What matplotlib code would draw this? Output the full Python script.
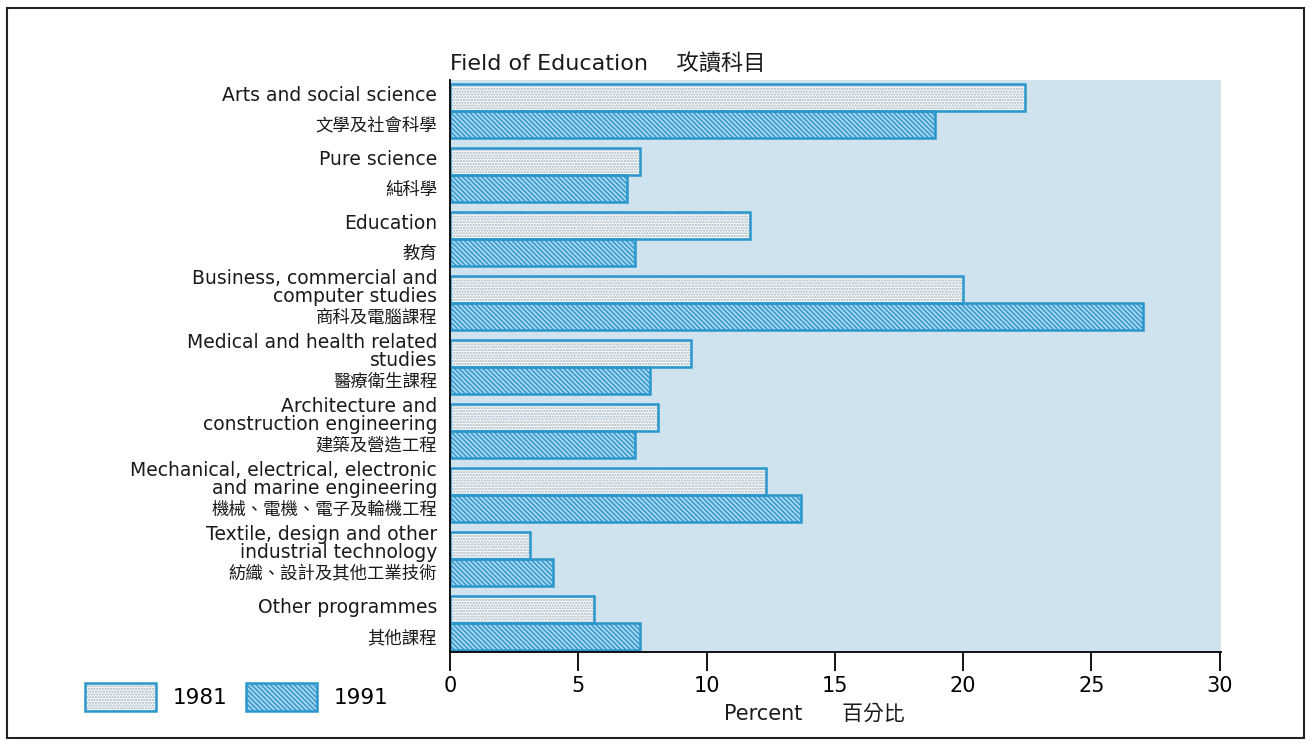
import numpy as np
import matplotlib
matplotlib.use('Agg')
import matplotlib.pyplot as plt
from matplotlib.patches import Patch, Rectangle

plt.rcParams['font.family'] = ['DejaVu Sans', 'Noto Sans CJK TC']
plt.rcParams['hatch.linewidth'] = 1.1

# field labels (English, Chinese)
fields_en = ['Arts and social science', 'Pure science', 'Education',
             'Business, commercial and\ncomputer studies',
             'Medical and health related\nstudies',
             'Architecture and\nconstruction engineering',
             'Mechanical, electrical, electronic\nand marine engineering',
             'Textile, design and other\nindustrial technology',
             'Other programmes']
fields_zh = ['文學及社會科學', '純科學', '教育', '商科及電腦課程', '醫療衛生課程',
             '建築及營造工程', '機械、電機、電子及輪機工程', '紡織、設計及其他工業技術', '其他課程']

pct_1981 = [22.4, 7.4, 11.7, 20.0, 9.4, 8.1, 12.3, 3.1, 5.6]
pct_1991 = [18.9, 6.9, 7.2, 27.0, 7.8, 7.2, 13.7, 4.0, 7.4]
years = ['1981', '1991']

edge = '#2a97cc'
bg = '#cee3ee'
fill81, hatch81, h81 = '#fafbfa', '#a3b8c4', '.' * 6
fill91, hatch91, h91 = '#abd7ee', '#3399cc', '\\' * 7

fig = plt.figure(figsize=(13.13, 7.47), dpi=100)
ax = fig.add_axes([0.3427, 0.1272, 0.5872, 0.7657])
ax.set_facecolor(bg)

y = np.arange(len(fields_en))
h = 0.42
y81 = y - h / 2
y91 = y + h / 2

# fills with hatch, then blue outlines
ax.barh(y81, pct_1981, height=h, color=fill81, edgecolor=hatch81, hatch=h81, lw=0)
ax.barh(y91, pct_1991, height=h, color=fill91, edgecolor=hatch91, hatch=h91, lw=0)
ax.barh(y81, pct_1981, height=h, fill=False, edgecolor=edge, lw=1.8)
ax.barh(y91, pct_1991, height=h, fill=False, edgecolor=edge, lw=1.8)

ax.set_xlim(0, 30.05)
ax.set_ylim(8.45, -0.48)

for s in ['top', 'right']:
    ax.spines[s].set_visible(False)
ax.spines['left'].set_linewidth(1.3)
ax.spines['bottom'].set_linewidth(1.3)

ax.set_xticks(np.arange(0, 31, 5))
ax.tick_params(axis='x', direction='out', length=14, width=1.3, labelsize=15, pad=3)
ax.set_yticks([])

# category labels: English next to 1981 bar, Chinese next to 1991 bar
for i in range(len(fields_en)):
    ax.text(-0.5, y81[i] - 0.03, fields_en[i], ha='right', va='center', fontsize=13.5,
            linespacing=0.9, color='#1a1a1a')
    ax.text(-0.5, y91[i] + 0.02, fields_zh[i], ha='right', va='center', fontsize=12.5,
            family='Noto Sans CJK TC', color='#1a1a1a')

fig.text(0.3427, 0.906, 'Field of Education    攻讀科目', fontsize=16, color='#1a1a1a')
fig.text(0.62, 0.037, 'Percent      百分比', fontsize=15, ha='center', color='#1a1a1a')

handles = [(Patch(facecolor=fill81, edgecolor=hatch81, hatch=h81, lw=0),
            Patch(fill=False, edgecolor=edge, lw=1.8)),
           (Patch(facecolor=fill91, edgecolor=hatch91, hatch=h91, lw=0),
            Patch(fill=False, edgecolor=edge, lw=1.8))]
fig.legend(handles, years, loc='lower left', bbox_to_anchor=(0.05, 0.022), ncol=2,
           frameon=False, fontsize=15.5, handlelength=3.3, handleheight=1.65,
           handletextpad=0.75, columnspacing=0.9)

# page frame
fig.add_artist(Rectangle((0.0055, 0.012), 0.988, 0.977, transform=fig.transFigure,
                         fill=False, edgecolor='#222222', lw=1.5))

fig.savefig('out.png', dpi=100)
